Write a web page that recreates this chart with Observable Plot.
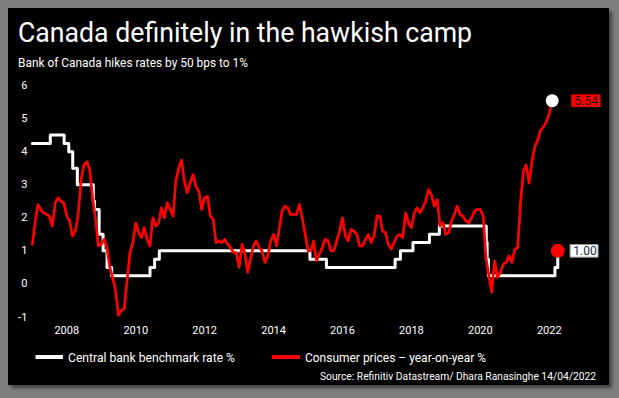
<!DOCTYPE html>
<html>
<head>
<meta charset="utf-8">
<script src="https://cdn.jsdelivr.net/npm/d3@7"></script>
<script src="https://cdn.jsdelivr.net/npm/@observablehq/plot@0.6"></script>
<style>
  html, body { margin: 0; padding: 0; }
  body { width: 619px; height: 398px; background: #7d7d7d; overflow: hidden; position: relative; font-family: Roboto, "Liberation Sans", sans-serif; }
  #panel { position: absolute; left: 8px; top: 8px; width: 601px; height: 377px; background: #000; box-shadow: 3px 3px 3px rgba(0,0,0,0.45); }
  #wrap { position: absolute; left: 0; top: 0; width: 619px; }
  #wrap svg { display: block; }
</style>
</head>
<body>
<div id="panel"></div>
<div id="wrap">
  <svg id="header" width="619" height="75">
    <text x="18" y="42" fill="#fff" font-size="28" textLength="454" lengthAdjust="spacingAndGlyphs">Canada definitely in the hawkish camp</text>
    <text x="18" y="66.5" fill="#fff" font-size="13.5" textLength="230" lengthAdjust="spacingAndGlyphs">Bank of Canada hikes rates by 50 bps to 1%</text>
  </svg>
  <div id="chart"></div>
  <svg id="footer" width="619" height="58"></svg>
</div>
<script>
// ---- data ----
const cpiStart = "2007-01-01"; // monthly series, consumer prices y/y %
const cpiValues = [
  1.2, 1.9, 2.4, 2.25, 2.15, 2.1, 2.05, 1.75, 2.45, 2.6, 2.5, 2.45,      // 2007
  2.05, 1.9, 1.45, 1.6, 2.1, 3.15, 3.6, 3.7, 3.45, 2.6, 1.95, 1.15,     // 2008
  1.2, 1.35, 1.1, 0.5, 0.2, -0.2, -0.95, -0.8, -0.75, 0.1, 0.95, 1.25,  // 2009
  1.85, 1.55, 1.4, 1.7, 1.35, 1.15, 2.0, 1.75, 1.85, 2.3, 2.0, 2.45,    // 2010
  2.25, 2.05, 3.1, 3.5, 3.75, 3.1, 2.75, 3.05, 3.3, 2.95, 2.8, 2.25,    // 2011
  2.6, 2.65, 2.05, 1.95, 1.25, 1.3, 1.25, 1.35, 1.2, 1.1, 0.95, 0.95,   // 2012
  0.5, 1.2, 0.95, 0.35, 0.75, 1.15, 1.3, 1.1, 1.0, 0.65, 0.85, 1.3,     // 2013
  1.5, 1.15, 1.65, 2.2, 2.35, 2.3, 2.1, 2.1, 2.1, 2.4, 2.0, 1.5,        // 2014
  1.0, 1.0, 1.3, 0.7, 0.9, 1.1, 1.35, 1.3, 1.0, 1.0, 1.3, 1.6,          // 2015
  2.0, 1.45, 1.3, 1.65, 1.6, 1.5, 1.15, 1.15, 1.35, 1.5, 1.25, 1.45,    // 2016
  2.05, 2.05, 1.6, 1.55, 1.2, 1.05, 1.25, 1.45, 1.5, 1.4, 2.15, 1.85,   // 2017
  1.7, 2.15, 2.3, 2.15, 2.3, 2.5, 2.85, 2.7, 2.35, 2.55, 1.75, 1.85,    // 2018
  1.5, 1.55, 1.9, 2.1, 2.35, 2.1, 2.05, 1.9, 1.85, 2.0, 2.2, 2.25,      // 2019
  2.25, 2.05, 0.8, 0.25, -0.25, 0.7, 0.2, 0.35, 0.6, 0.65, 0.85, 0.65,  // 2020
  1.05, 1.1, 2.4, 3.4, 3.6, 3.05, 3.7, 4.15, 4.35, 4.65, 4.75, 4.9,     // 2021
  5.15, 5.54                                                            // 2022
];
const rateDates = ["2007-01-01","2007-07-10","2007-12-04","2008-01-22","2008-03-04","2008-04-22",
  "2008-10-08","2008-10-21","2008-12-09","2009-01-20","2009-03-03","2009-04-21","2010-06-01",
  "2010-07-20","2010-09-08","2015-01-21","2015-07-15","2017-07-12","2017-09-06","2018-01-17",
  "2018-07-11","2018-10-24","2020-03-04","2020-03-13","2020-03-27","2022-03-02","2022-04-01"];
const rateValues = [4.25, 4.5, 4.25, 4.0, 3.5, 3.0, 2.5, 2.25, 1.5, 1.0, 0.5, 0.25, 0.5,
  0.75, 1.0, 0.75, 0.5, 0.75, 1.0, 1.25, 1.5, 1.75, 1.25, 0.75, 0.25, 0.5, 1.0];
const yTicks = [-1, 0, 1, 2, 3, 4, 5, 6];
const xTickYears = [2008, 2010, 2012, 2014, 2016, 2018, 2020, 2022];
const seriesNames = ["Central bank benchmark rate %", "Consumer prices \u2013 year-on-year %"];
const seriesColors = ["#ffffff", "#ff0000"];
const sourceText = "Source: Refinitiv Datastream/ Dhara Ranasinghe 14/04/2022";

// ---- build tables ----
const start = new Date(cpiStart);
const cpi = cpiValues.map((v, i) => ({date: d3.utcMonth.offset(start, i), value: v}));
const rate = rateDates.map((d, i) => ({date: new Date(d), value: rateValues[i]}));
const cpiLast = [cpi[cpi.length - 1]];
const rateLast = [rate[rate.length - 1]];
const xTicks = xTickYears.map(y => new Date(Date.UTC(y, 0, 1)));

function boxSymbol(w, h) {
  return {draw(ctx) { ctx.rect(-w / 2, -h / 2, w, h); ctx.closePath(); }};
}

const chart = Plot.plot({
  width: 619,
  height: 265,
  marginLeft: 31.84,
  marginRight: 58.9,
  marginTop: 10,
  marginBottom: 23.5,
  style: {background: "transparent", color: "#fff", fontFamily: "Roboto, sans-serif", fontSize: "11px", overflow: "visible"},
  x: {type: "utc", domain: [new Date("2007-01-01"), new Date("2022-05-01")], ticks: xTicks,
      tickFormat: d3.utcFormat("%Y"), tickSize: 0, tickPadding: 9, label: null},
  y: {domain: [-1, 6], ticks: yTicks, tickFormat: d => String(d), tickSize: 0, tickPadding: 5, label: null},
  marks: [
    Plot.line(rate, {x: "date", y: "value", curve: "step-after", stroke: seriesColors[0], strokeWidth: 3}),
    Plot.line(cpi, {x: "date", y: "value", stroke: seriesColors[1], strokeWidth: 2.7, strokeLinejoin: "round"}),
    Plot.dot(cpiLast, {x: "date", y: "value", r: 6.5, fill: "#fff"}),
    Plot.dot(rateLast, {x: "date", y: "value", r: 7, fill: "#ff0000"}),
    Plot.dot(cpiLast, {x: "date", y: "value", symbol: boxSymbol(29.3, 12.7), fill: "#ff0000", dx: 33.7}),
    Plot.text(cpiLast, {x: "date", y: "value", text: d => d.value.toFixed(2), dx: 22.4, textAnchor: "start", fill: "#2a0000", fontSize: 12}),
    Plot.dot(rateLast, {x: "date", y: "value", symbol: boxSymbol(28, 12.6), fill: "#fff", stroke: "#999", strokeWidth: 1, dx: 26.3}),
    Plot.text(rateLast, {x: "date", y: "value", text: d => d.value.toFixed(2), dx: 15.6, textAnchor: "start", fill: "#1a2a3a", fontSize: 12})
  ]
});
document.getElementById("chart").appendChild(chart);

// ---- legend & source ----
const footer = d3.select("#footer");
const legendItems = [
  {name: seriesNames[0], color: seriesColors[0], x1: 35.5, x2: 63, tx: 68, tw: 167},
  {name: seriesNames[1], color: seriesColors[1], x1: 272, x2: 300, tx: 305, tw: 181}
];
for (const it of legendItems) {
  footer.append("line").attr("x1", it.x1).attr("x2", it.x2).attr("y1", 17).attr("y2", 17)
    .attr("stroke", it.color).attr("stroke-width", 4);
  footer.append("text").attr("x", it.tx).attr("y", 21.5).attr("fill", "#fff").attr("font-size", 13)
    .attr("textLength", it.tw).attr("lengthAdjust", "spacingAndGlyphs").text(it.name);
}
footer.append("text").attr("x", 596).attr("y", 40).attr("fill", "#fff").attr("font-size", 10.6)
  .attr("text-anchor", "end")
  .attr("textLength", 276).attr("lengthAdjust", "spacingAndGlyphs").text(sourceText);
</script>
</body>
</html>
